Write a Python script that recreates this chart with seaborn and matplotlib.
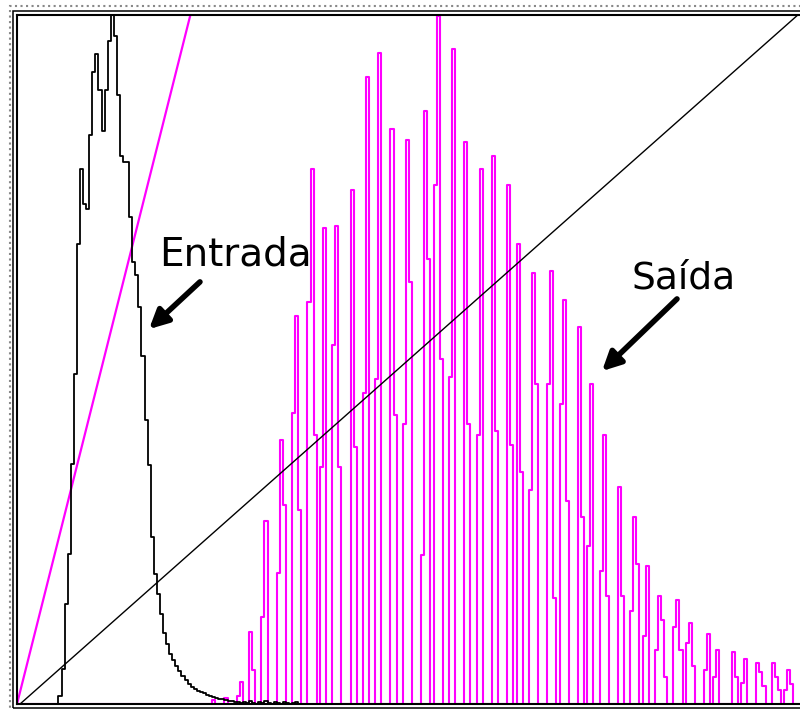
import numpy as np
import seaborn as sns
import matplotlib.pyplot as plt
from matplotlib.patches import Rectangle

# gray levels 0..255
levels = np.arange(256)

# input histogram (black), values from level 14 onward
in_start = 14
in_counts = [8, 35, 100, 150, 240, 330, 460, 535, 500, 495, 569, 632, 650, 614,
             573, 614, 663, 689, 668, 609, 548, 542, 542, 487, 442, 429, 397, 348,
             284, 239, 167, 130, 110, 90, 71, 60, 50, 44, 38, 33, 28, 24, 20, 17,
             15, 13, 12, 11, 9, 8, 7, 6, 5, 5, 4, 3, 3, 2, 2, 1, 2, 1, 3, 1, 0, 2,
             1, 3, 1, 0, 2, 1, 0, 2, 1, 0, 1, 2]

# output (equalized) histogram, magenta: groups of adjacent bins
out_starts = [64, 68, 72, 76, 80, 85, 90, 95, 99, 103, 109, 113, 117, 122, 126,
              132, 136, 141, 146, 150, 155, 160, 163, 167, 173, 177, 183, 186,
              190, 196, 200, 204, 208, 214, 218, 224, 227, 233, 236, 241, 246, 250]
out_heights = [[4], [6], [8, 22], [72, 34], [87, 183], [131, 264, 199],
               [291, 388, 194], [402, 535, 269], [237, 476], [359, 478, 237],
               [514, 257], [311, 627], [325, 651], [575, 289], [280, 564, 422],
               [149, 593, 445], [519, 688, 345], [327, 655], [562, 280],
               [269, 535], [548, 273], [519, 259], [460, 232], [214, 431, 320],
               [320, 433, 106], [300, 404, 203], [377, 187], [158, 320],
               [133, 269, 108], [217, 108], [93, 187, 140], [68, 138],
               [54, 108, 84, 27], [77, 104, 54], [61, 81, 38], [34, 70],
               [27, 54], [52, 27], [21, 45], [41, 32, 18], [41, 27, 14],
               [14, 34, 20]]

# transfer line (magenta) and output cumulative line (black)
trans_x = [0, 56.4]
trans_y = [0, 689]
cum_x = [1, 254]
cum_y = [0, 689]

in_hist = np.zeros(256)
in_hist[in_start:in_start + len(in_counts)] = in_counts
out_hist = np.zeros(256)
for s, h in zip(out_starts, out_heights):
    out_hist[s:s + len(h)] = h

sns.set_style("white")
W, H = 800, 711
fig = plt.figure(figsize=(W / 100, H / 100), dpi=100)
ax = fig.add_axes([17 / W, (H - 704) / H, 790 / W, 689 / H])

magenta = "#ff00ff"
sns.histplot(x=levels, weights=out_hist, discrete=True, element="step",
             fill=False, color=magenta, lw=1.5, ax=ax)
sns.lineplot(x=trans_x, y=trans_y, color=magenta, lw=1.6, ax=ax)
sns.histplot(x=levels, weights=in_hist, discrete=True, element="step",
             fill=False, color="black", lw=1.3, ax=ax)
sns.lineplot(x=cum_x, y=cum_y, color="black", lw=1.0, ax=ax)

ax.set_xlim(0, 257)
ax.set_ylim(0, 689)
ax.set_xticks([])
ax.set_yticks([])
ax.set_xlabel("")
ax.set_ylabel("")
for sp in ax.spines.values():
    sp.set_color("black")
    sp.set_linewidth(1.5)

# outer window frame
fig.patches.append(Rectangle((12.5 / W, 3 / H), 1, 697.5 / H, transform=fig.transFigure,
                             fill=False, ec="black", lw=1.1))
fig.patches.append(Rectangle((10 / W, -0.01), 1, 705 / H + 0.01, transform=fig.transFigure,
                             fill=False, ec="#888888", lw=1.5, ls=":"))

# labels with arrows
fig.text(159 / W, (H - 265) / H, "Entrada", fontsize=28, family="DejaVu Sans",
         color="black", va="baseline", ha="left")
fig.text(632 / W, (H - 288) / H, "Saída", fontsize=27, family="DejaVu Sans",
         color="black", va="baseline", ha="left")
ax.annotate("", xy=(147, H - 331), xytext=(202, H - 280), xycoords="figure pixels",
            textcoords="figure pixels",
            arrowprops=dict(arrowstyle="-|>", lw=4, color="black", mutation_scale=28))
ax.annotate("", xy=(600, H - 373), xytext=(679, H - 297), xycoords="figure pixels",
            textcoords="figure pixels",
            arrowprops=dict(arrowstyle="-|>", lw=4, color="black", mutation_scale=28))

fig.savefig("out.png", dpi=100)
